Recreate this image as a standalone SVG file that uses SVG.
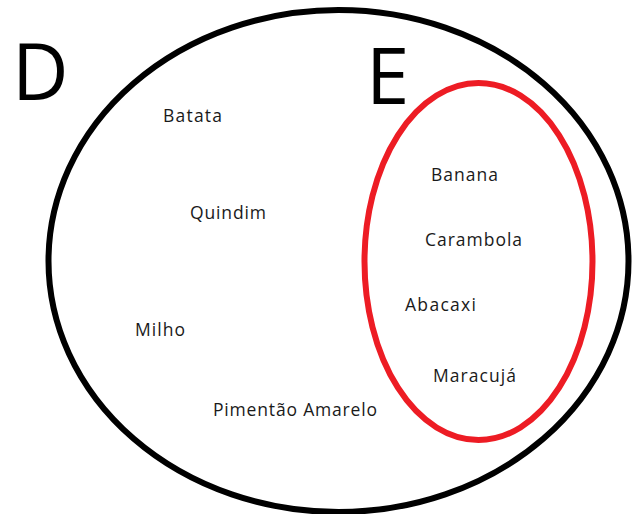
<svg xmlns="http://www.w3.org/2000/svg" width="636" height="514" viewBox="0 0 636 514">
<style>
.set{fill:none;stroke-width:6}
.big{font-family:"Open Sans","Liberation Sans",sans-serif;font-size:78px;fill:#000}
.lbl{font-family:"Open Sans","Liberation Sans",sans-serif;font-size:17.5px;fill:#1a1a1a}
</style>
<rect width="636" height="514" fill="#fff"/>
<g id="D">
<ellipse class="set" cx="338.5" cy="261" rx="290" ry="251" stroke="#000"/>
<text class="big" x="12" y="100" textLength="48">D</text>
</g>
<g id="E">
<ellipse class="set" cx="478.5" cy="261.5" rx="114" ry="178.5" stroke="#ed1c24"/>
<text class="big" x="366" y="104">E</text>
</g>
<g id="labels">
<text class="lbl" x="163" y="122" textLength="59">Batata</text>
<text class="lbl" x="190" y="219" textLength="76">Quindim</text>
<text class="lbl" x="135" y="336" textLength="50">Milho</text>
<text class="lbl" x="213" y="416" textLength="164">Pimentão Amarelo</text>
<text class="lbl" x="431" y="181" textLength="67">Banana</text>
<text class="lbl" x="425" y="246" textLength="97">Carambola</text>
<text class="lbl" x="405" y="311" textLength="71">Abacaxi</text>
<text class="lbl" x="433" y="382" textLength="83">Maracujá</text>
</g>
</svg>
